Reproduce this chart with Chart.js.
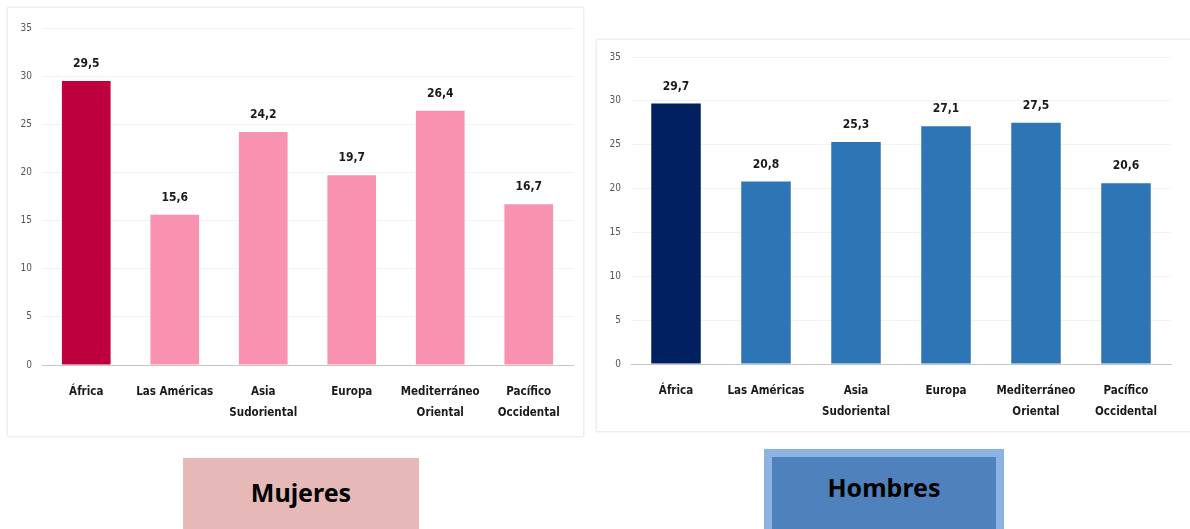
<!DOCTYPE html>
<html>
<head>
<meta charset="utf-8">
<script src="https://cdn.jsdelivr.net/npm/chart.js@4.4.1/dist/chart.umd.min.js"></script>
<style>
  body { margin: 0; width: 1190px; height: 529px; background: #fff; position: relative; overflow: hidden; }
  .panel { position: absolute; background: #fff; box-shadow: 0 0 2px 1px #e6e6e6; }
  #panelM { left: 8px; top: 8px; width: 575px; height: 428px; }
  #panelH { left: 597px; top: 40px; width: 600px; height: 391px; }
  .panel canvas { position: absolute; left: 0; top: 0; }
  .tag { position: absolute; font-family: "Noto Sans", "Open Sans", sans-serif; font-weight: bold;
         font-size: 25px; color: #000; display: flex; align-items: center; justify-content: center; box-sizing: border-box; }
  #tagM { left: 183px; top: 458px; width: 236px; height: 80px; background: #E6B8B7; padding-bottom: 13px; }
  #tagH { left: 764px; top: 449px; width: 240px; height: 90px; background: #4F81BD; border: 8px solid #8DB3E2; border-bottom: none; padding-bottom: 22px; }
</style>
</head>
<body>
<div class="panel" id="panelM"><canvas id="chartM"></canvas></div>
<div class="panel" id="panelH"><canvas id="chartH"></canvas></div>
<div class="tag" id="tagM">Mujeres</div>
<div class="tag" id="tagH">Hombres</div>
<script>
// Categories and values
var regiones = ["África", "Las Américas", ["Asia", "Sudoriental"], "Europa", ["Mediterráneo", "Oriental"], ["Pacífico", "Occidental"]];
var mujeres = [29.5, 15.6, 24.2, 19.7, 26.4, 16.7];
var hombres = [29.7, 20.8, 25.3, 27.1, 27.5, 20.6];
var yTicks = [0, 5, 10, 15, 20, 25, 30, 35];

var narrow = "'Liberation Sans Narrow', 'DejaVu Sans Condensed', sans-serif";

// Value labels above each bar
var valueLabels = {
    id: "valueLabels",
    afterDatasetsDraw: function (chart) {
        var ctx = chart.ctx;
        var meta = chart.getDatasetMeta(0);
        ctx.save();
        ctx.font = "bold 12px " + narrow;
        ctx.fillStyle = "#1a1a1a";
        ctx.textAlign = "center";
        ctx.textBaseline = "bottom";
        meta.data.forEach(function (bar, i) {
            var v = chart.data.datasets[0].data[i];
            ctx.fillText(v.toFixed(1).replace(".", ","), bar.x, bar.y - 11);
        });
        ctx.restore();
    }
};

function makeChart(id, w, h, values, colors, padding) {
    var canvas = document.getElementById(id);
    canvas.style.width = w + "px";
    canvas.style.height = h + "px";
    return new Chart(canvas, {
        type: "bar",
        data: {
            labels: regiones,
            datasets: [{
                data: values,
                backgroundColor: colors,
                categoryPercentage: 1,
                barPercentage: 0.55
            }]
        },
        options: {
            responsive: false,
            animation: false,
            layout: { padding: padding },
            plugins: { legend: { display: false }, tooltip: { enabled: false } },
            scales: {
                y: {
                    min: 0,
                    max: 35,
                    afterBuildTicks: function (s) { s.ticks = yTicks.map(function (v) { return { value: v }; }); },
                    afterFit: function (s) { s.width = 34; },
                    grid: { color: "#f2f2f2", drawTicks: false },
                    border: { display: false },
                    ticks: { color: "#555", padding: 10, font: { family: narrow, size: 10 } }
                },
                x: {
                    grid: { display: false },
                    border: { color: "#c8c8c8", width: 1 },
                    afterFit: function (s) { s.height = 60; },
                    ticks: { color: "#1a1a1a", padding: 8, maxRotation: 0, autoSkip: false,
                             font: { family: narrow, size: 11.5, weight: "bold", lineHeight: 1.85 } }
                }
            }
        },
        plugins: [valueLabels]
    });
}

var pinkM = mujeres.map(function (v, i) { return i === 0 ? "#BE003E" : "#F892B0"; });
var blueH = hombres.map(function (v, i) { return i === 0 ? "#002060" : "#2E75B6"; });

makeChart("chartM", 575, 428, mujeres, pinkM, { top: 20, left: 0, right: 10, bottom: 11 });
makeChart("chartH", 593, 391, hombres, blueH, { top: 17, left: 0, right: 19, bottom: 7 });
</script>
</body>
</html>
